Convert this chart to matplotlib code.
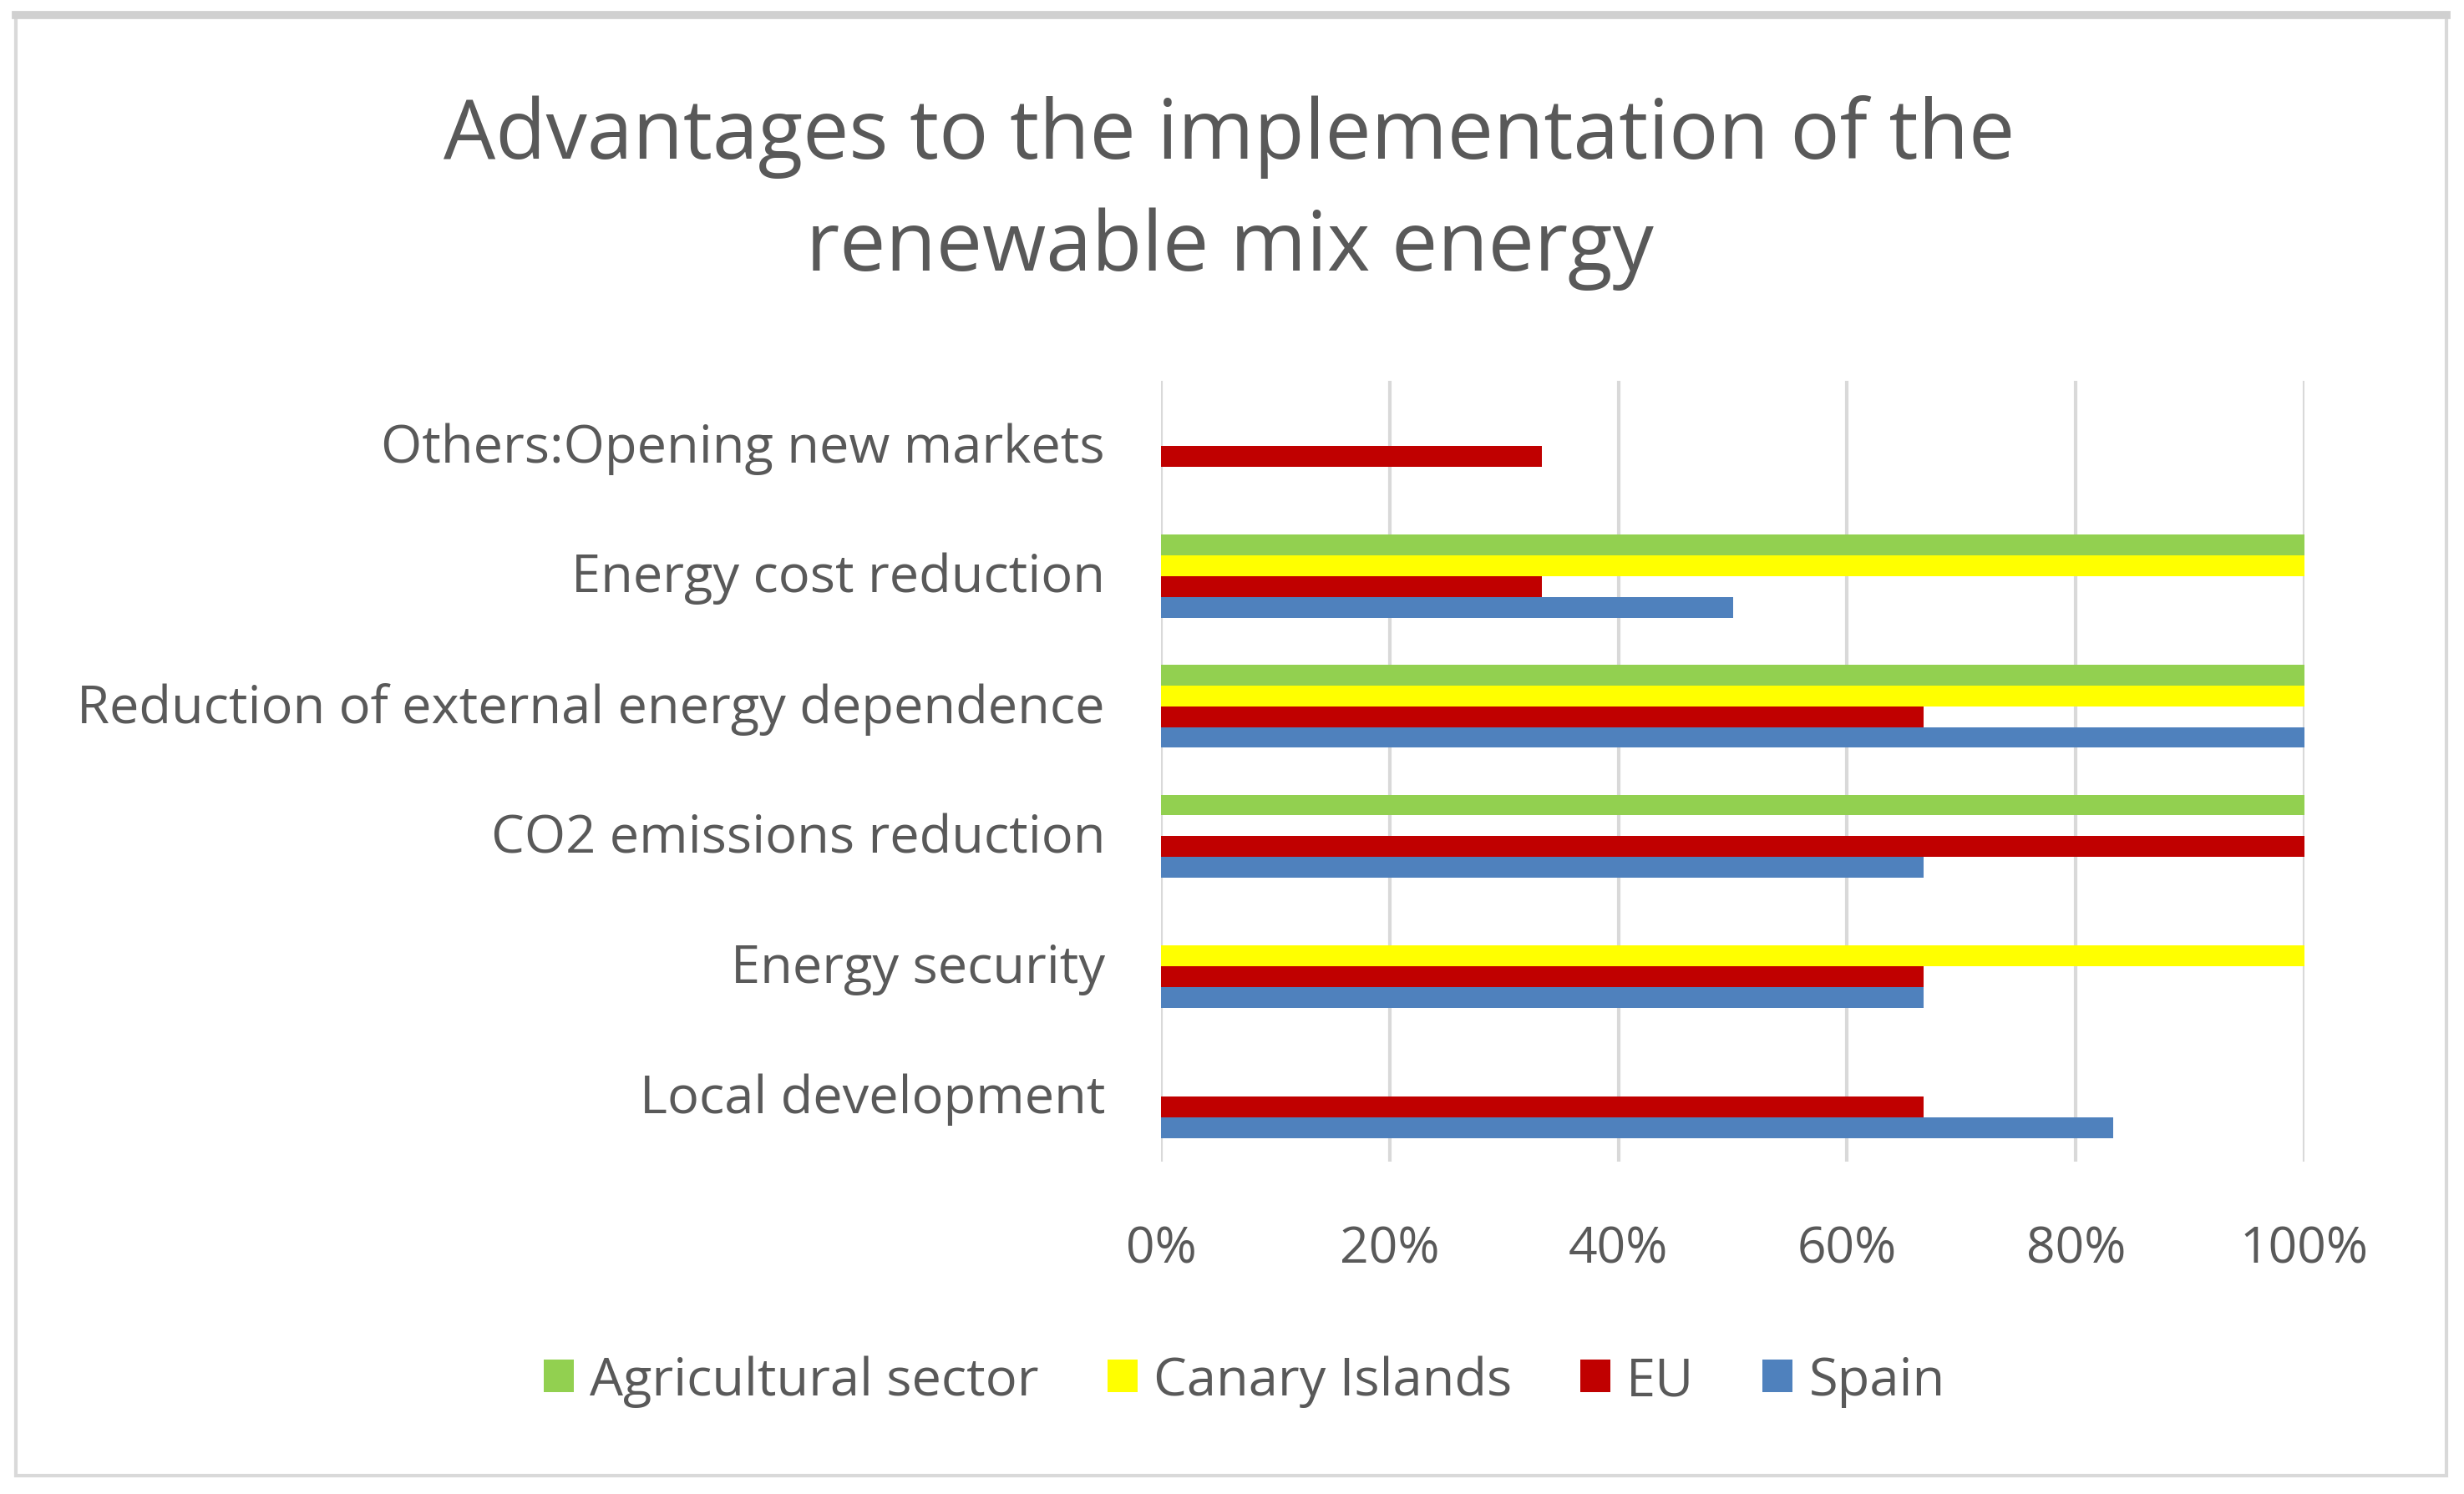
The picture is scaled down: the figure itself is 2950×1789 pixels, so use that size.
import matplotlib
matplotlib.use("Agg")
import matplotlib.pyplot as plt
import numpy as np
from matplotlib.patches import Rectangle, Patch
from matplotlib.lines import Line2D
from matplotlib.transforms import ScaledTranslation

categories = ["Local development", "Energy security", "CO2 emissions reduction",
              "Reduction of external energy dependence", "Energy cost reduction",
              "Others:Opening new markets"]
series_names = ["Spain", "EU", "Canary Islands", "Agricultural sector"]
spain = [83.3, 66.7, 66.7, 100, 50, 0]
eu = [66.7, 66.7, 100, 66.7, 33.3, 33.3]
canary = [0, 100, 0, 100, 100, 0]
agri = [0, 0, 100, 100, 100, 0]
xticks = [0, 20, 40, 60, 80, 100]
xtick_labels = ["0%", "20%", "40%", "60%", "80%", "100%"]
title_lines = ["Advantages to the implementation of the", "renewable mix energy"]

colors = {"Spain": "#4F81BD", "EU": "#C00000", "Canary Islands": "#FFFF00",
          "Agricultural sector": "#92D050"}
values = {"Spain": spain, "EU": eu, "Canary Islands": canary, "Agricultural sector": agri}

FONT = "Open Sans"
TXT = "#595959"
GRID = "#D9D9D9"
W, H = 2950, 1790
DPI = 100
fig = plt.figure(figsize=(W / DPI, H / DPI), dpi=DPI)
fig.patch.set_facecolor("white")

renderer = fig.canvas.get_renderer()

def fit(t, target_px):
    bb = t.get_window_extent(renderer)
    t.set_fontsize(t.get_fontsize() * target_px / bb.width)
    return t.get_fontsize()

def px(x, y):
    return x / W, 1 - y / H

# frame
fig.add_artist(Rectangle(px(19, 1768), (2929 - 19) / W, (1768 - 19) / H,
                         transform=fig.transFigure, fill=False, edgecolor=GRID, lw=3))
fig.add_artist(Line2D([19 / W, 2929 / W], [1 - 19 / H, 1 - 19 / H],
                      transform=fig.transFigure, color="#D0D0D0", lw=7))

# title
t1 = fig.text(1472 / W, 1 - 190 / H, title_lines[0], ha="center", va="baseline",
              family=FONT, color=TXT, fontsize=60)
fs_title = fit(t1, 1880)
t2 = fig.text(1472 / W, 1 - 324 / H, title_lines[1], ha="center", va="baseline",
              family=FONT, color=TXT, fontsize=fs_title)

ax = fig.add_axes([1390 / W, 1 - 1392 / H, (2759 - 1390) / W, (1392 - 457) / H])
y = np.arange(len(categories))
h = 0.16
offsets = [-1.5 * h, -0.5 * h, 0.5 * h, 1.5 * h]
for name, off in zip(series_names, offsets):
    ax.barh(y + off, values[name], height=h, color=colors[name], zorder=3, linewidth=0)

ax.set_xlim(0, 100)
ax.set_ylim(-0.5, len(categories) - 0.5)
ax.set_xticks(xticks)
ax.grid(axis="x", color=GRID, lw=3, zorder=0)
for s in ax.spines.values():
    s.set_visible(False)
ax.tick_params(length=0)

# category labels
tmp = fig.text(0, 0, max(categories, key=len), family=FONT, fontsize=40)
fs_cat = fit(tmp, 1232)
tmp.remove()
ax.set_yticks(y)
ax.set_yticklabels(categories, family=FONT, color=TXT, fontsize=fs_cat)
ax.tick_params(axis="y", pad=67 * 0.72)
up = ScaledTranslation(0, 5 / DPI, fig.dpi_scale_trans)
for lab in ax.get_yticklabels():
    lab.set_transform(lab.get_transform() + up)

tmp = fig.text(0, 0, "100%", family=FONT, fontsize=40)
fs_tick = fit(tmp, 154)
tmp.remove()
ax.set_xticklabels(xtick_labels, family=FONT, color=TXT, fontsize=fs_tick)
ax.tick_params(axis="x", pad=75 * 0.72)

# legend
tmp = fig.text(0, 0, "Agricultural sector", family=FONT, fontsize=40)
fs_leg = fit(tmp, 538)
tmp.remove()
leg_order = ["Agricultural sector", "Canary Islands", "EU", "Spain"]
handles = [Patch(facecolor=colors[n], edgecolor="none") for n in leg_order]
em = fs_leg / 0.72
leg = fig.legend(handles, leg_order, loc="center", bbox_to_anchor=(1490 / W, 1 - 1655 / H),
                 ncol=4, frameon=False, prop={"family": FONT, "size": fs_leg},
                 handlelength=36 / em, handleheight=36 / em, handletextpad=19 / em,
                 columnspacing=82 / em, labelcolor=TXT)

fig.savefig("out.png", dpi=DPI, facecolor="white")
